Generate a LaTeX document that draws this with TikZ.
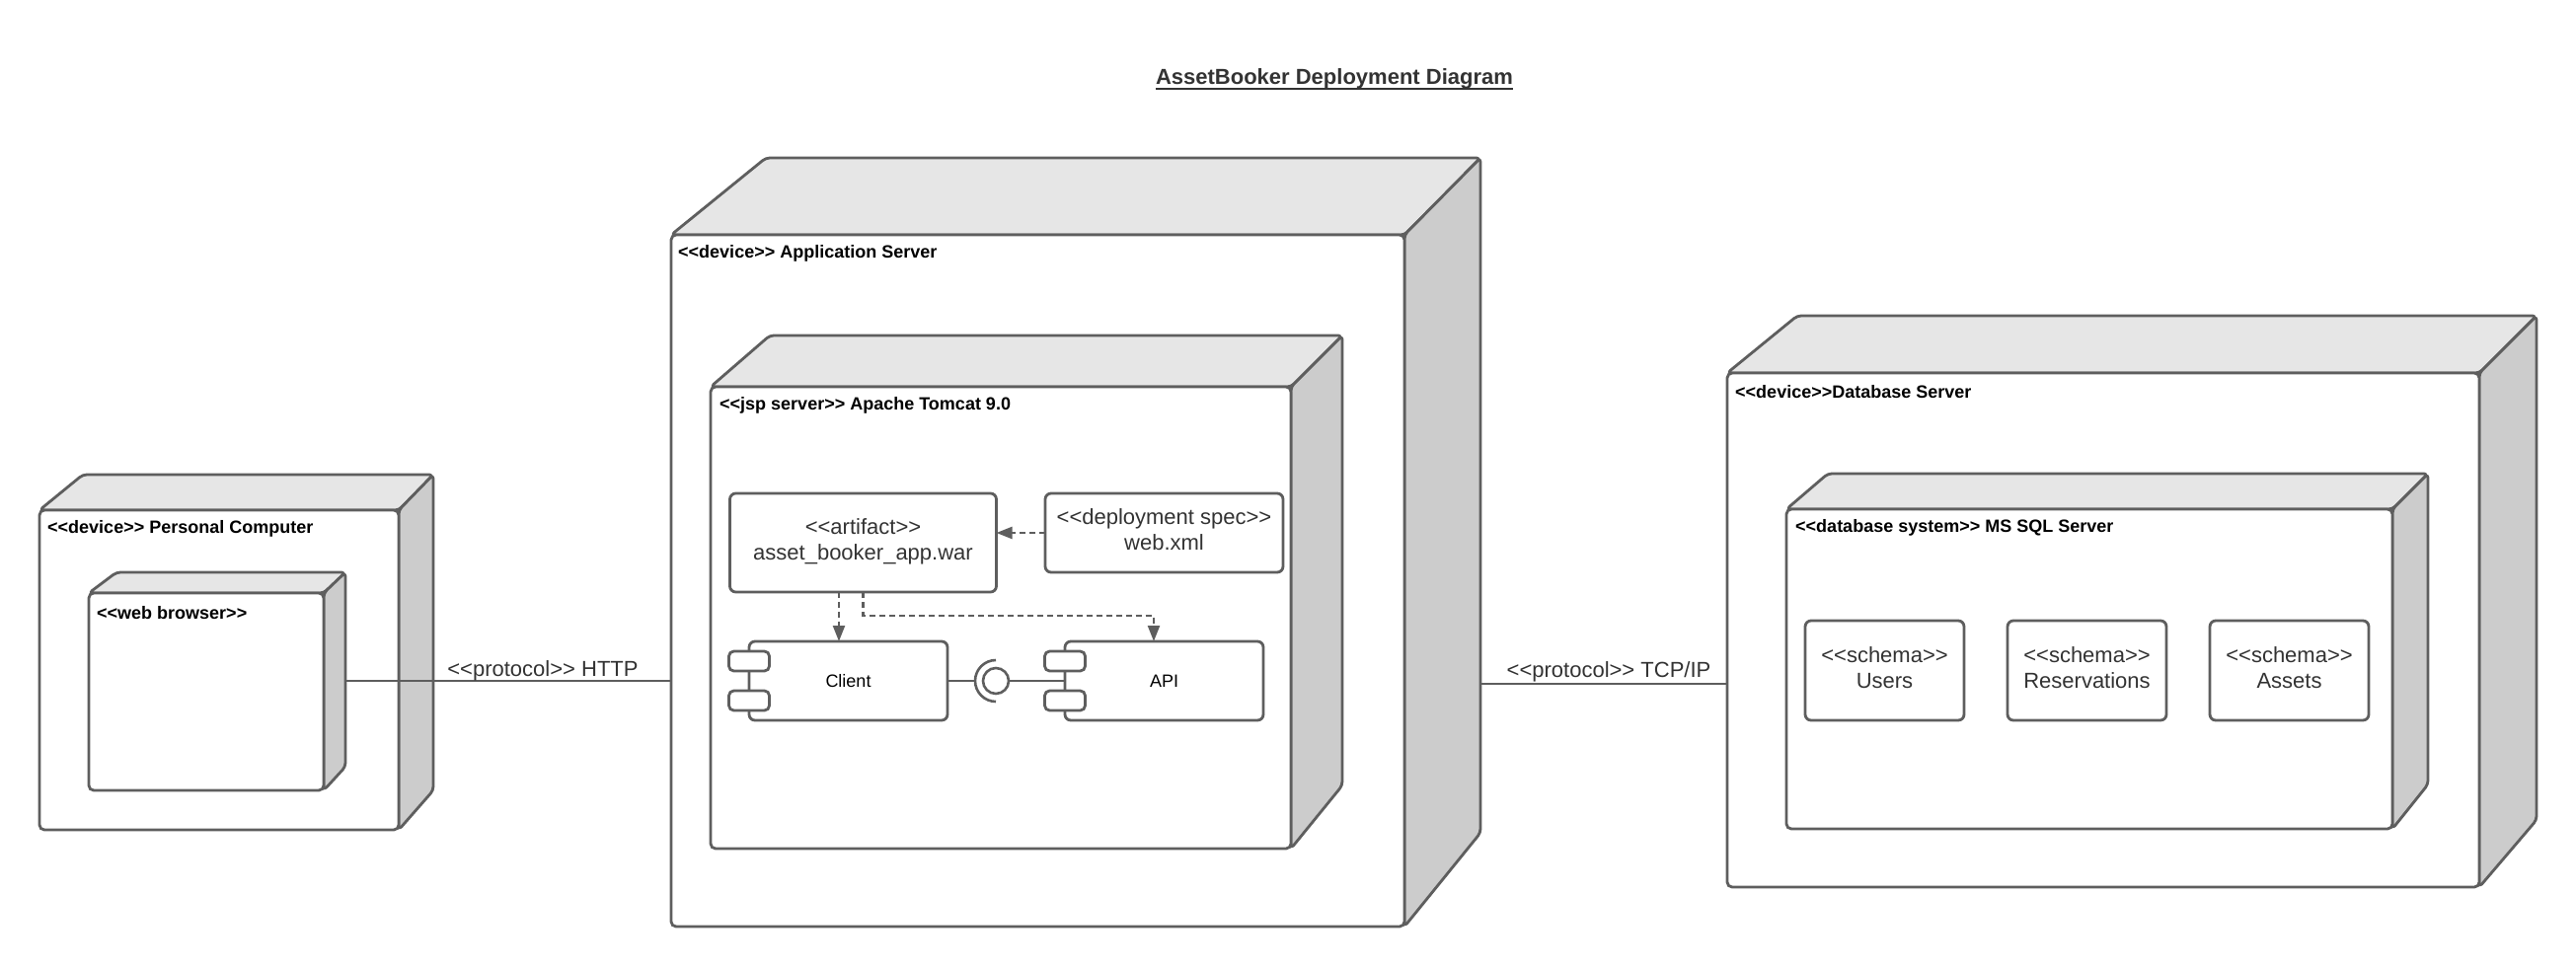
\documentclass[tikz,border=0pt]{standalone}
\usepackage{fontspec}
\setmainfont{Liberation Sans}[Ligatures=TeXOff]
\usetikzlibrary{arrows.meta,calc}
\definecolor{ln}{RGB}{94,94,94}
\definecolor{topc}{RGB}{230,230,230}
\definecolor{sidec}{RGB}{204,204,204}
\definecolor{txt}{RGB}{51,51,51}
\newcommand{\dropstrut}{\rule[-6pt]{0pt}{6pt}}
\tikzset{
 topface/.style={draw=ln, line width=2.8pt, fill=topc, rounded corners=4pt, line join=round},
 sideface/.style={draw=ln, line width=2.8pt, fill=sidec, rounded corners=4pt, line join=round},
 frontface/.style={draw=ln, line width=2.8pt, fill=white, rounded corners=5pt, inner sep=0pt, outer sep=0pt},
 nlabel/.style={font=\bfseries\fontsize{18}{21}\selectfont, text=black, anchor=west, inner sep=0pt},
 artbox/.style={draw=ln, line width=2.8pt, fill=white, rounded corners=6pt, inner sep=0pt, outer sep=0pt, align=center, font=\fontsize{22}{26}\selectfont, text=txt},
 compbox/.style={artbox, font=\fontsize{18}{21}\selectfont, text=black},
 portbox/.style={draw=ln, line width=2.8pt, fill=white, rounded corners=5pt, minimum width=41pt, minimum height=20pt, inner sep=0pt, outer sep=0pt},
 conn/.style={draw=ln, line width=2.2pt},
 depline/.style={draw=ln, line width=2.2pt, dash pattern=on 6pt off 4pt, -{Triangle[length=16pt,width=12pt]}},
 plabel/.style={font=\fontsize{22}{26}\selectfont, text=txt, inner sep=0pt}
}
% name, x0, yfront, x1, ybottom, dxLeft, dxRight, dyTop, dyBottom
\newcommand{\dnode}[9]{%
  \draw[topface] (#2,#3) -- (#2+#6,#3-#8) -- (#4+#7,#3-#8) -- (#4,#3) -- cycle;
  \draw[sideface] (#4,#3) -- (#4+#7,#3-#8) -- (#4+#7,#5-#9) -- (#4,#5) -- cycle;
  \node[frontface, minimum width={#4-#2}, minimum height={#5-#3}, anchor=north west] (#1) at (#2,#3) {};
  \coordinate (#1-side) at (#4+#7,#3-#8);
}
\begin{document}
\begin{tikzpicture}[x=1pt,y=-1pt]
\useasboundingbox (0,0) rectangle (2610,980);
\fill[white] (0,0) rectangle (2610,980);

% title
\node[font=\bfseries\fontsize{22}{26}\selectfont, text=txt, anchor=base, inner sep=0pt] (title) at (1352,85) {AssetBooker Deployment Diagram};
\draw[txt, line width=2pt] ([yshift=-4.5pt]title.base west) -- ([yshift=-4.5pt]title.base east);

% Personal computer
\dnode{pc}{40}{517}{404}{841}{44}{35}{36}{40}
\node[nlabel] (pcl) at ([shift={(8pt,-19pt)}]pc.north west) {<<device>> Personal Computer};
\dnode{wb}{90}{601}{328}{801}{28}{22}{21}{24}
\node[nlabel] (wbl) at ([shift={(8pt,-20pt)}]wb.north west) {<<web browser>>};

% Application server
\dnode{app}{680}{238}{1423}{939}{96}{77}{78}{95}
\node[nlabel] (appl) at ([shift={(7pt,-19pt)}]app.north west) {<<device>> Application Server};
\dnode{tc}{720}{392}{1308}{860}{60}{52}{52}{64}
\node[nlabel] (tcl) at ([shift={(9pt,-19pt)}]tc.north west) {<<jsp server>> Apache Tomcat 9.0};

\node[artbox, minimum width=270pt, minimum height=100pt] (war) at (874.5,550) {<<artifact>>\\asset\_booker\_app.war\dropstrut};
\node[artbox, minimum width=241pt, minimum height=80pt] (webxml) at (1179.5,540) {<<deployment spec>>\\web.xml\dropstrut};

\node[compbox, minimum width=201pt, minimum height=80pt] (client) at (859.5,690) {Client};
\node[portbox] (clientp1) at ([yshift=20pt]client.west) {};
\node[portbox] (clientp2) at ([yshift=-20pt]client.west) {};
\node[compbox, minimum width=201pt, minimum height=80pt] (api) at (1179.5,690) {API};
\node[portbox] (apip1) at ([yshift=20pt]api.west) {};
\node[portbox] (apip2) at ([yshift=-20pt]api.west) {};

\node[circle, draw=ln, line width=2.6pt, fill=white, minimum size=26pt, inner sep=0pt, outer sep=0pt] (ball) at (1009,690) {};
\draw[conn] (client.east) -- ([xshift=-21pt]ball.center);
\draw[conn, line width=2.6pt] ([yshift=21pt]ball.center) arc[start angle=90, end angle=270, radius=21pt];
\draw[conn] (ball.east) -- (api.west);

\draw[depline] (webxml.west) -- (war.east |- webxml.west);
\draw[depline] ([xshift=-24.5pt]war.south) -- ([xshift=-9.5pt]client.north);
\draw[depline] (war.south) -- ++(0,24) -| ([xshift=-10.5pt]api.north);

% Database server
\dnode{db}{1750}{378}{2512}{899}{71}{58}{58}{68}
\node[nlabel] (dbl) at ([shift={(8pt,-19pt)}]db.north west) {<<device>>Database Server};
\dnode{sql}{1810}{516}{2424}{840}{42}{36}{36}{45}
\node[nlabel] (sqll) at ([shift={(9pt,-19pt)}]sql.north west) {<<database system>> MS SQL Server};

\node[artbox, minimum width=161pt, minimum height=101pt] (users) at (1909.5,679.5) {<<schema>>\\Users\dropstrut};
\node[artbox, minimum width=161pt, minimum height=101pt] (resv) at (2114.5,679.5) {<<schema>>\\Reservations\dropstrut};
\node[artbox, minimum width=161pt, minimum height=101pt] (assets) at (2319.5,679.5) {<<schema>>\\Assets\dropstrut};

% connectors
\draw[conn] (wb-side |- 0,690) -- node[plabel, anchor=base, pos=0.606, yshift=5pt] {<<protocol>> HTTP} (app.west |- 0,690);
\draw[conn] (app-side |- 0,693) -- node[plabel, anchor=base, pos=0.52, yshift=7pt] {<<protocol>> TCP/IP} (db.west |- 0,693);
\end{tikzpicture}
\end{document}
